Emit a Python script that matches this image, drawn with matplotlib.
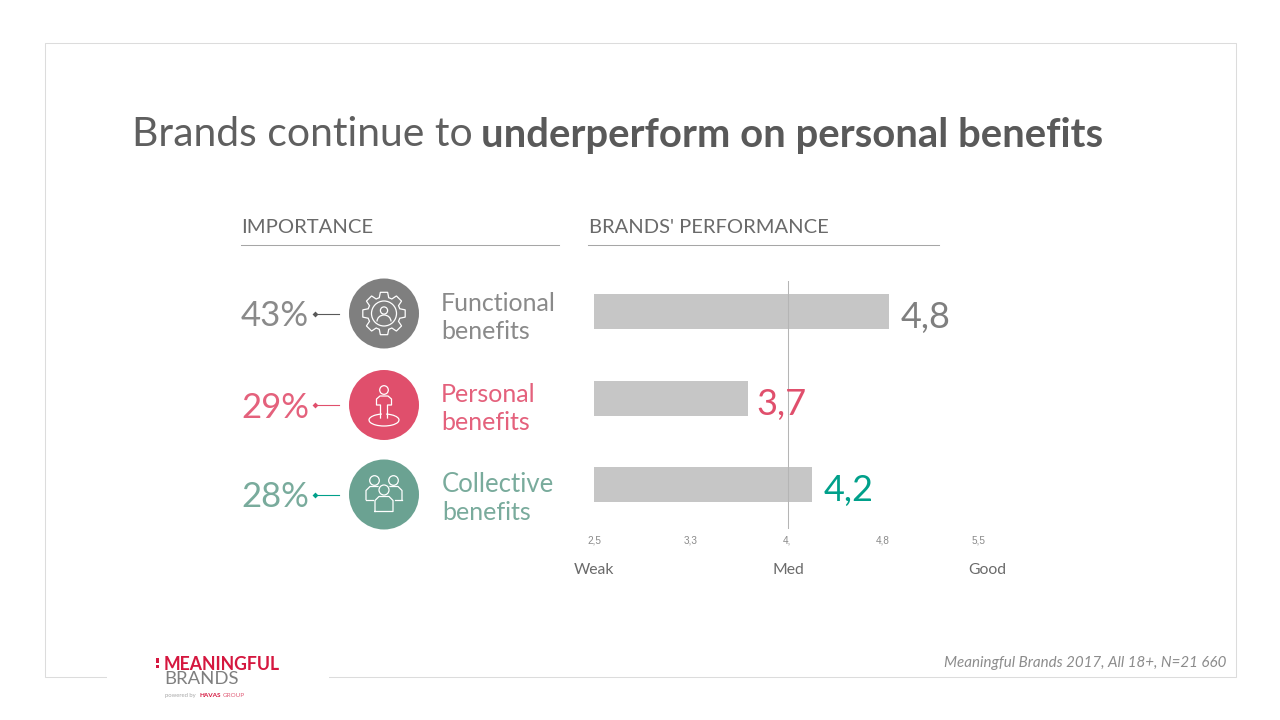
import matplotlib
matplotlib.use("Agg")
import matplotlib.pyplot as plt
from matplotlib.patches import Circle, Rectangle, Arc, Polygon
import numpy as np

# Data
categories = ["Functional\nbenefits", "Personal\nbenefits", "Collective\nbenefits"]
importance = ["43%", "29%", "28%"]
performance = [4.8, 3.7, 4.2]
perf_labels = ["4,8", "3,7", "4,2"]
tick_values = [2.5, 3.25, 4.0, 4.75, 5.5]
tick_labels = ["2,5", "3,3", "4,", "4,8", "5,5"]
scale_labels = ["Weak", "Med", "Good"]
scale_values = [2.5, 4.0, 5.5]
circle_colors = ["#7f7f7f", "#e04f6c", "#6ba292"]
text_colors = ["#8a8a8a", "#e4617c", "#79ab9c"]
value_colors = ["#7f7f7f", "#e04f6c", "#00a08a"]
arrow_colors = ["#595959", "#e04f6c", "#00a08a"]

plt.rcParams["font.family"] = ["Lato", "DejaVu Sans"]
W, H = 1280, 720
fig = plt.figure(figsize=(12.8, 7.2), dpi=100, facecolor="white")

# Pixel overlay
ov = fig.add_axes([0, 0, 1, 1], zorder=0)
ov.set_xlim(0, W); ov.set_ylim(H, 0); ov.axis("off")
ov.set_aspect("equal")

# Frame
ov.add_patch(Rectangle((45, 43), 1191, 634, fc="none", ec="#dcdcdc", lw=0.75))
ov.add_patch(Rectangle((107, 670), 222, 14, fc="white", ec="none", zorder=1))

# Title
ov.text(132, 135, "Brands continue to", fontsize=29.4, color="#5f5f5f", va="center", ha="left")
ov.text(481, 135, "underperform on personal benefits", fontsize=28.8, color="#595959",
        va="center", ha="left", fontweight="bold")

# Section headers
ov.text(241, 227.5, "IMPORTANCE", fontsize=14.6, color="#6a6a6a", va="center", ha="left")
ov.text(589, 227.5, "BRANDS' PERFORMANCE", fontsize=14.5, color="#6a6a6a", va="center", ha="left")
ov.plot([241, 559], [245, 245], color="#a6a6a6", lw=0.75)
ov.plot([588, 939], [245, 245], color="#a6a6a6", lw=0.75)

# Chart axes: 2.5 -> x=594, 5.5 -> x=979
ax = fig.add_axes([594 / W, 1 - 529 / H, 385 / W, (529 - 281) / H], zorder=2)
ax.patch.set_alpha(0)
ax.set_xlim(2.5, 5.5)
ax.set_ylim(529, 281)
bar_centers = [311, 398, 484.5]
ax.barh(bar_centers, [v - 2.5 for v in performance], left=2.5, height=35, color="#c6c6c6", zorder=1)
ax.axvline(4.01, color="#b5b5b5", lw=0.75, zorder=2)
for s in ax.spines.values():
    s.set_visible(False)
ax.set_yticks([])
ax.set_xticks(tick_values)
ax.set_xticklabels(tick_labels, fontsize=7.2, color="#8a8a8a", fontfamily=["Liberation Sans"])
ax.tick_params(axis="x", length=0, pad=5)
value_gap = [8, 6, 8.5]
for v, c, lab, y, g in zip(performance, value_colors, perf_labels, bar_centers, value_gap):
    ax.annotate(lab, (v, y + 6), xytext=(g, 0), textcoords="offset points", color=c,
                fontsize=26, va="center", ha="left", annotation_clip=False)
for v, lab in zip(scale_values, scale_labels):
    x = 594 + (v - 2.5) * 385 / 3
    dx = {"Weak": 0, "Med": 1.5, "Good": 8}[lab]
    ov.text(x + dx, 570, lab, fontsize=11.3, color="#6a6a6a", ha="center", va="center")

# Left rows
row_y = [313.5, 405, 494.5]
label_x = [441, 441, 442]
label_size = [18, 18, 18.5]
for i, (cat, imp) in enumerate(zip(categories, importance)):
    y = row_y[i]
    ov.text(241, y + 2.5, imp, fontsize=25, color=text_colors[i], va="center", ha="left")
    ov.plot([315, 339], [y, y], color=arrow_colors[i], lw=0.8)
    ov.plot([314.5], [y], marker="D", ms=3, color=arrow_colors[i], mec="none")
    ov.add_patch(Circle((384, y), 35, fc=circle_colors[i], ec="none"))
    l1, l2 = cat.split("\n")
    ov.text(label_x[i], y - 10, l1, fontsize=label_size[i], color=text_colors[i], va="center", ha="left")
    ov.text(label_x[i], y + 18, l2, fontsize=18, color=text_colors[i], va="center", ha="left")

lw_i = 0.9
ic = dict(fc="none", ec="white", lw=lw_i, zorder=5)
# Gear icon
cx, cy = 384, 313.5
n = 8
pts = []
for k in range(n):
    a = 2 * np.pi * k / n
    for da, r in [(-0.29, 16.5), (-0.17, 21.5), (0.17, 21.5), (0.29, 16.5)]:
        pts.append((cx + r * np.cos(a + da), cy + r * np.sin(a + da)))
ov.add_patch(Polygon(pts, closed=True, **ic))
ov.add_patch(Circle((cx, cy), 12.5, **ic))
ov.add_patch(Circle((cx, cy - 3), 3.6, **ic))
ov.add_patch(Arc((cx, cy + 8), 14, 13, theta1=180, theta2=360, ec="white", lw=lw_i, zorder=5))

# Person on a spot icon
cx, cy = 384, 405
ov.add_patch(Circle((cx, cy - 15), 4.3, **ic))
body = [(cx - 3.5, cy + 13), (cx - 3.5, cy + 0), (cx - 7.5, cy + 0), (cx - 7.5, cy - 6), (cx - 4, cy - 9),
        (cx + 4, cy - 9), (cx + 7.5, cy - 6), (cx + 7.5, cy + 0), (cx + 3.5, cy + 0), (cx + 3.5, cy + 13)]
ov.plot(*zip(*body), color="white", lw=lw_i, zorder=5)
ov.add_patch(Arc((cx, cy + 15), 30, 12, theta1=-20, theta2=200, ec="white", lw=lw_i, zorder=5))
ov.add_patch(Arc((cx, cy + 15), 30, 12, theta1=200, theta2=250, ec="white", lw=lw_i, zorder=5))
ov.add_patch(Arc((cx, cy + 15), 30, 12, theta1=290, theta2=340, ec="white", lw=lw_i, zorder=5))

# Group icon
cx, cy = 384, 494.5
for dx, dy, r in [(-9.5, -14, 4.8), (9.5, -14, 4.8), (0, -4.5, 5)]:
    ov.add_patch(Circle((cx + dx, cy + dy), r, **ic))
for sgn in (-1, 1):
    ov.plot([cx + sgn * 18, cx + sgn * 18, cx + sgn * 14, cx + sgn * 6], [cy + 5, cy - 4, cy - 8, cy - 8],
            color="white", lw=lw_i, zorder=5)
    ov.plot([cx + sgn * 18, cx + sgn * 11], [cy + 5, cy + 5], color="white", lw=lw_i, zorder=5)
ov.plot([cx - 9, cx - 9, cx - 5, cx + 5, cx + 9, cx + 9, cx - 9],
        [cy + 17, cy + 6, cy + 2, cy + 2, cy + 6, cy + 17, cy + 17], color="white", lw=lw_i, zorder=5)

# Source
ov.text(1226, 663.5, "Meaningful Brands 2017, All 18+, N=21 660", fontsize=10.9, color="#8c8c8c",
        style="italic", ha="right", va="center", zorder=3)

# Logo
red = "#d5173f"
ov.add_patch(Rectangle((156, 658), 3, 5, fc=red, ec="none", zorder=3))
ov.add_patch(Rectangle((156, 665), 3, 3, fc=red, ec="none", zorder=3))
ov.text(164, 664, "MEANINGFUL", fontsize=12.7, color=red, fontweight="bold", va="center", ha="left", zorder=3)
ov.text(164, 679, "BRANDS", fontsize=13.3, color="#7f7f7f", va="center", ha="left", zorder=3)
ov.text(165, 695.5, "powered by", fontsize=4.2, color="#a6a6a6", va="center", ha="left", zorder=3)
ov.text(200, 695.5, "HAVAS", fontsize=4.6, color=red, fontweight="bold", va="center", ha="left", zorder=3)
ov.text(223, 695.5, "GROUP", fontsize=4.6, color="#e0607a", va="center", ha="left", zorder=3)

fig.savefig("out.png", dpi=100)
